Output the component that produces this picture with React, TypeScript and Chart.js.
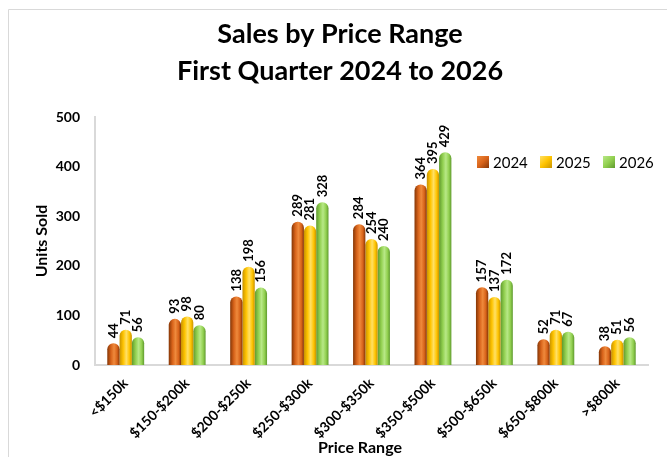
import React, { useEffect, useRef } from "react";
import { Chart, registerables } from "chart.js";

Chart.register(...registerables);

const categories = ["<$150k", "$150-$200k", "$200-$250k", "$250-$300k", "$300-$350k", "$350-$500k", "$500-$650k", "$650-$800k", ">$800k"];
const seriesNames = ["2024", "2025", "2026"];
const sales2024 = [44, 93, 138, 289, 284, 364, 157, 52, 38];
const sales2025 = [71, 98, 198, 281, 254, 395, 137, 71, 51];
const sales2026 = [56, 80, 156, 328, 240, 429, 172, 67, 56];
const titleLines = ["Sales by Price Range", "First Quarter 2024 to 2026"];
const yTitle = "Units Sold";
const xTitle = "Price Range";

const palettes = [
  { edge: "#853606", mid: "#d8631a", light: "#ef8a3c", legend: "#c55a11" },
  { edge: "#c79200", mid: "#ffc400", light: "#ffe066", legend: "#ffc000" },
  { edge: "#5f9a2e", mid: "#92d050", light: "#b8e887", legend: "#92d050" },
];

const FONT = "Lato, 'Open Sans', sans-serif";
const CAT_PCT = 0.6;

function barFill(ctx: any) {
  const chart = ctx.chart;
  const xs = chart.scales?.x;
  const p = palettes[ctx.datasetIndex];
  if (!xs || ctx.dataIndex === undefined) return p.mid;
  const n = categories.length;
  const w = (xs.width / n) * CAT_PCT / 3;
  const c = xs.getPixelForValue(ctx.dataIndex) + (ctx.datasetIndex - 1) * w;
  const x0 = c - w / 2, x1 = c + w / 2;
  if (!isFinite(x0) || !isFinite(x1)) return p.mid;
  const g = chart.ctx.createLinearGradient(x0, 0, x1, 0);
  g.addColorStop(0, p.edge);
  g.addColorStop(0.3, p.mid);
  g.addColorStop(0.55, p.light);
  g.addColorStop(0.8, p.mid);
  g.addColorStop(1, p.edge);
  return g;
}

const decorPlugin = {
  id: "decor",
  beforeDraw(chart: any) {
    const ctx = chart.ctx;
    ctx.save();
    ctx.strokeStyle = "#d9d9d9";
    ctx.lineWidth = 1;
    ctx.beginPath();
    ctx.moveTo(8.5, chart.height + 5);
    ctx.lineTo(8.5, 9.5);
    ctx.lineTo(chart.width + 5, 9.5);
    ctx.stroke();
    ctx.fillStyle = "#000";
    ctx.textAlign = "center";
    ctx.textBaseline = "middle";
    ctx.font = `bold 27px ${FONT}`;
    ctx.fillText(titleLines[0], 340, 34);
    ctx.fillText(titleLines[1], 340, 71);
    ctx.restore();
  },
  afterDraw(chart: any) {
    const ctx = chart.ctx;
    const area = chart.chartArea;
    ctx.save();
    ctx.fillStyle = "#000";
    ctx.font = `bold 16px ${FONT}`;
    ctx.textAlign = "center";
    ctx.textBaseline = "middle";
    ctx.fillText(xTitle, 360, 448);
    ctx.save();
    ctx.translate(42, (area.top + area.bottom) / 2);
    ctx.rotate(-Math.PI / 2);
    ctx.fillText(yTitle, 0, 0);
    ctx.restore();
    ctx.font = `bold 13px ${FONT}`;
    ctx.textAlign = "left";
    ctx.textBaseline = "middle";
    chart.data.datasets.forEach((ds: any, di: number) => {
      const meta = chart.getDatasetMeta(di);
      meta.data.forEach((el: any, i: number) => {
        ctx.save();
        ctx.translate(el.x, el.y - 5);
        ctx.rotate(-Math.PI / 2);
        ctx.fillText(String(ds.data[i]), 0, 0);
        ctx.restore();
      });
    });
    const lx = [477, 540, 603];
    ctx.font = `15px ${FONT}`;
    ctx.textBaseline = "middle";
    seriesNames.forEach((name, i) => {
      const x = lx[i];
      const y = 162;
      const g = ctx.createLinearGradient(x, y - 6, x + 12, y + 6);
      g.addColorStop(0, palettes[i].light);
      g.addColorStop(0.5, palettes[i].mid);
      g.addColorStop(1, palettes[i].edge);
      ctx.fillStyle = g;
      ctx.fillRect(x, y - 6, 12, 12);
      ctx.fillStyle = "#000";
      ctx.fillText(name, x + 16, y + 1);
    });
    ctx.restore();
  },
};

export default function App() {
  const ref = useRef<HTMLCanvasElement>(null);
  useEffect(() => {
    document.body.style.margin = "0";
    const sets = [sales2024, sales2025, sales2026];
    const chart = new Chart(ref.current!, {
      type: "bar",
      data: {
        labels: categories,
        datasets: sets.map((d, i) => ({
          label: seriesNames[i],
          data: d,
          backgroundColor: barFill as any,
          borderWidth: 0,
          borderRadius: { topLeft: 6, topRight: 6, bottomLeft: 0, bottomRight: 0 },
          borderSkipped: "bottom",
          categoryPercentage: CAT_PCT,
          barPercentage: 1,
        })),
      },
      options: {
        responsive: false,
        animation: false,
        devicePixelRatio: 1,
        layout: { padding: { top: 117, left: 0, right: 19, bottom: 0 } },
        plugins: {
          legend: { display: false },
          title: { display: false },
          tooltip: { enabled: false },
        },
        scales: {
          x: {
            grid: { display: false, drawTicks: false },
            border: { display: true, color: "#d9d9d9", width: 2 },
            ticks: {
              color: "#000",
              font: { family: FONT, size: 14, weight: "bold" },
              maxRotation: 45,
              minRotation: 45,
              padding: 10,
              autoSkip: false,
            },
            afterFit(scale: any) {
              scale.height = 92;
            },
          },
          y: {
            min: 0,
            max: 500,
            grid: { display: false, drawTicks: false },
            border: { display: true, color: "#d9d9d9", width: 2 },
            ticks: {
              stepSize: 100,
              color: "#000",
              font: { family: FONT, size: 14, weight: "bold" },
              padding: 15,
            },
            afterFit(scale: any) {
              scale.width = 95;
            },
          },
        },
      },
      plugins: [decorPlugin],
    });
    return () => chart.destroy();
  }, []);
  return (
    <div style={{ position: "fixed", left: 0, top: 0, width: 667, height: 457, background: "#fff" }}>
      <canvas ref={ref} width={667} height={457} style={{ width: 667, height: 457, display: "block" }} />
    </div>
  );
}
